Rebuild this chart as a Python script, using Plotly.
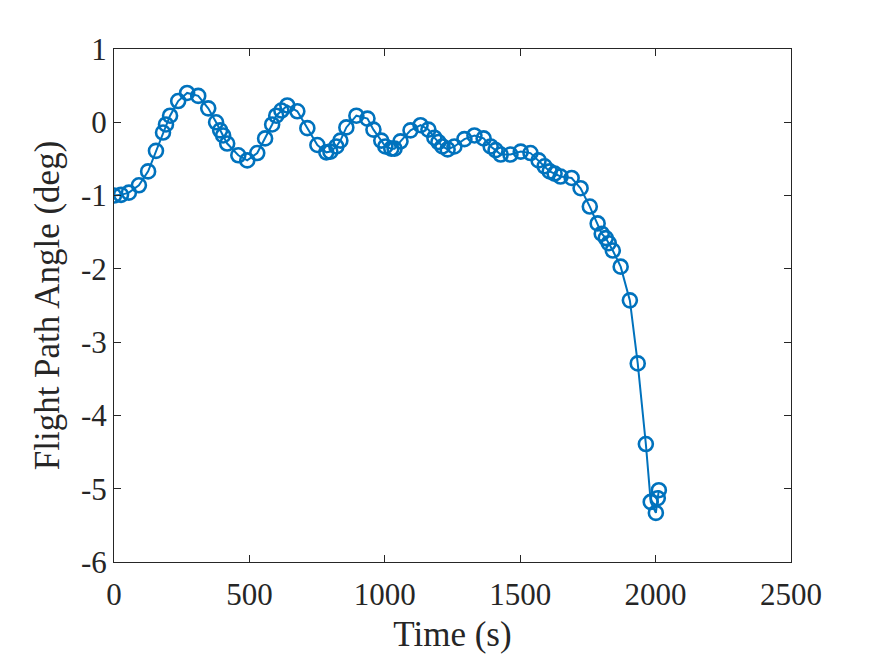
import plotly.graph_objects as go

time_s = [0, 26, 55, 92, 126, 155, 181, 192, 207, 237, 270, 311, 348, 377, 392, 403, 418,
          459, 492, 529, 558, 584, 599, 618, 640, 677, 714, 751, 784, 799, 821, 836, 858,
          895, 936, 958, 987, 1002, 1024, 1036, 1058, 1095, 1132, 1161, 1183, 1198, 1213,
          1232, 1257, 1294, 1331, 1365, 1391, 1409, 1428, 1464, 1502, 1538, 1568, 1590,
          1609, 1627, 1649, 1690, 1723, 1757, 1786, 1801, 1816, 1827, 1842, 1871, 1905,
          1934, 1964, 1982, 2001, 2008, 2012]
gamma_deg = [-1.00, -0.99, -0.96, -0.86, -0.67, -0.39, -0.14, -0.03, 0.09, 0.29, 0.40, 0.36,
             0.19, 0.00, -0.11, -0.18, -0.29, -0.45, -0.52, -0.42, -0.22, -0.03, 0.09, 0.16,
             0.23, 0.15, -0.08, -0.31, -0.41, -0.40, -0.33, -0.25, -0.07, 0.09, 0.05, -0.10,
             -0.25, -0.33, -0.36, -0.36, -0.26, -0.11, -0.04, -0.10, -0.21, -0.27, -0.33,
             -0.37, -0.33, -0.23, -0.18, -0.22, -0.33, -0.38, -0.44, -0.44, -0.40, -0.42,
             -0.52, -0.60, -0.67, -0.70, -0.74, -0.76, -0.90, -1.15, -1.38, -1.52, -1.58,
             -1.65, -1.75, -1.97, -2.43, -3.29, -4.39, -5.18, -5.33, -5.13, -5.02]

x_ticks = [0, 500, 1000, 1500, 2000, 2500]
y_ticks = [1, 0, -1, -2, -3, -4, -5, -6]
y_tick_text = [str(v).replace("\u2212", "-") for v in y_ticks]

color = "#0072BD"
font = "Liberation Serif, Times New Roman, serif"

fig = go.Figure(go.Scatter(
    x=time_s, y=gamma_deg, mode="lines+markers",
    line=dict(color=color, width=2),
    marker=dict(symbol="circle-open", size=14, color=color, line=dict(width=2.6, color=color)),
))

axis_common = dict(showline=True, linecolor="#262626", linewidth=1, mirror="ticks",
                   ticks="inside", ticklen=7, tickcolor="#262626", tickwidth=1,
                   showgrid=False, zeroline=False,
                   tickfont=dict(family=font, size=31, color="#262626"))

fig.update_xaxes(range=[0, 2500], tickvals=x_ticks, ticklabelstandoff=5,
                 title=dict(text="Time (s)", font=dict(family=font, size=35, color="#262626"), standoff=10),
                 **axis_common)
fig.update_yaxes(range=[-6, 1], tickvals=y_ticks, ticktext=y_tick_text,
                 title=dict(text="Flight Path Angle (deg)", font=dict(family=font, size=35, color="#262626"), standoff=10),
                 **axis_common)

fig.update_layout(width=875, height=656, showlegend=False,
                  plot_bgcolor="white", paper_bgcolor="white",
                  margin=dict(l=114, r=84, t=49, b=94, autoexpand=False))

fig.write_html("out.html")
